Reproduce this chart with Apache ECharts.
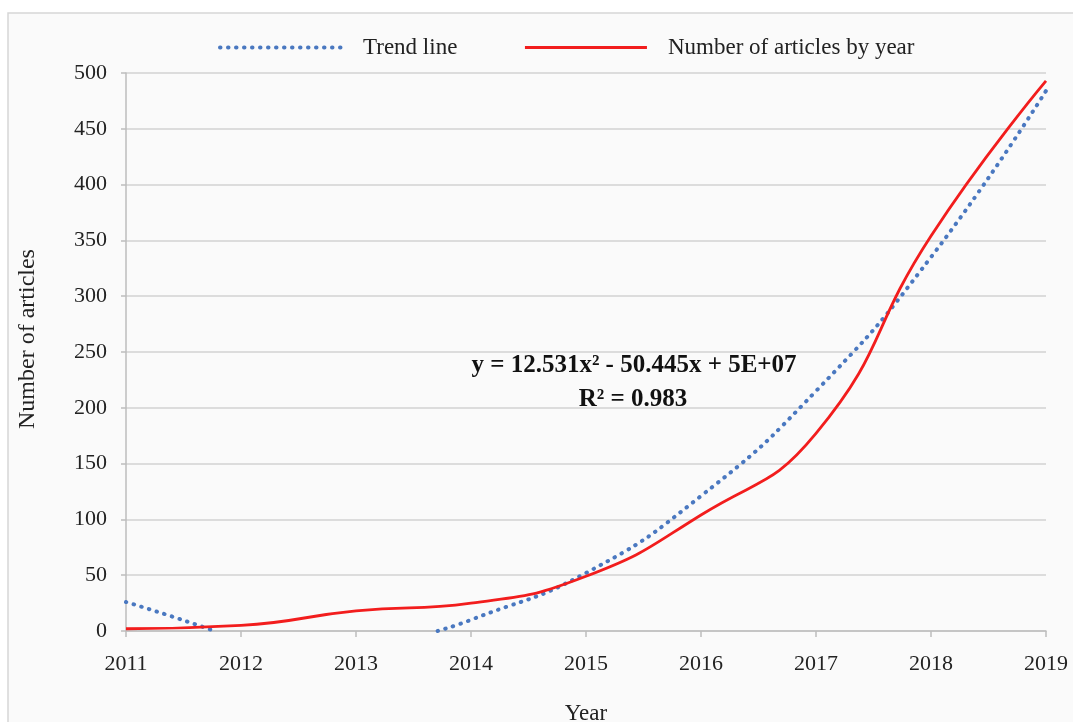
<!DOCTYPE html>
<html>
<head>
<meta charset="utf-8">
<script src="https://cdn.jsdelivr.net/npm/echarts@6/dist/echarts.min.js"></script>
<style>
html,body{margin:0;padding:0;background:#ffffff;}
#chart{width:1073px;height:722px;}
</style>
</head>
<body>
<div id="chart"></div>
<script>
// Data
const years = [2011, 2012, 2013, 2014, 2015, 2016, 2017, 2018, 2019];
const articles = [2, 5, 18, 25, 49, 104, 177, 354, 493];
const trendX = [2011, 2011.4, 2011.77, 2012.7, 2013.71, 2014, 2015, 2016, 2017, 2018, 2019];
const trendY = [26, 13, 0, null, 0, 10, 52, 121, 215, 335, 484];
const yTicks = [0, 50, 100, 150, 200, 250, 300, 350, 400, 450, 500];
const seriesNames = ['Trend line', 'Number of articles by year'];
const equationText = 'y = 12.531x\u00B2 - 50.445x + 5E+07';
const r2Text = 'R\u00B2 = 0.983';

const FONT = '"Liberation Serif", "Times New Roman", serif';
const BLUE = '#4a78c0';
const RED = '#f21d1d';
const trendLine = { color: BLUE, width: 4, type: [0.5, 7.5], cap: 'round' };

const chart = echarts.init(document.getElementById('chart'));
const option = {
  backgroundColor: '#ffffff',
  animation: false,
  graphic: [
    { type: 'rect', z: -10, silent: true,
      shape: { x: 8, y: 13, width: 1200, height: 800 },
      style: { fill: '#fafafa', stroke: '#d6d6d6', lineWidth: 1.5 } },
    { type: 'text', z: 10, x: 634, y: 366,
      style: { text: equationText, fill: '#111', font: 'bold 25px ' + FONT,
               textAlign: 'center', textVerticalAlign: 'middle' } },
    { type: 'text', z: 10, x: 633, y: 400,
      style: { text: r2Text, fill: '#111', font: 'bold 25px ' + FONT,
               textAlign: 'center', textVerticalAlign: 'middle' } },
    { type: 'text', z: 10, x: 28, y: 339, rotation: Math.PI / 2,
      style: { text: 'Number of articles', fill: '#222', font: '24px ' + FONT,
               textAlign: 'center', textVerticalAlign: 'middle' } },
    { type: 'text', z: 10, x: 586, y: 714,
      style: { text: 'Year', fill: '#222', font: '23px ' + FONT,
               textAlign: 'center', textVerticalAlign: 'middle' } }
  ],
  legend: {
    left: 213, top: 31,
    itemWidth: 122, itemHeight: 14, itemGap: 66,
    itemStyle: { opacity: 0 },
    data: [
      { name: seriesNames[0], lineStyle: trendLine },
      { name: seriesNames[1], lineStyle: { color: RED, width: 3.2 } }
    ],
    textStyle: { fontFamily: FONT, fontSize: 23, color: '#222', padding: [0, 0, 0, 16] }
  },
  grid: { left: 126, right: 27, top: 73, bottom: 91, containLabel: false },
  xAxis: {
    type: 'value', min: 2011, max: 2019, interval: 1,
    axisLine: { show: true, lineStyle: { color: '#bdbdbd', width: 1.5 } },
    axisTick: { show: true, length: 6, lineStyle: { color: '#bdbdbd', width: 1.5 } },
    axisLabel: { margin: 22, fontFamily: FONT, fontSize: 22, color: '#222',
                 formatter: v => String(v) },
    splitLine: { show: false }
  },
  yAxis: {
    type: 'value', min: 0, max: 500, interval: 50,
    axisLine: { show: true, lineStyle: { color: '#bdbdbd', width: 1.5 } },
    axisTick: { show: true, length: 5, lineStyle: { color: '#bdbdbd', width: 1.5 } },
    axisLabel: { margin: 19, fontFamily: FONT, fontSize: 22, color: '#222' },
    splitLine: { show: true, lineStyle: { color: '#d2d2d2', width: 1.5 } }
  },
  series: [
    {
      name: seriesNames[0], type: 'line', smooth: true, symbol: 'none',
      connectNulls: false, z: 3,
      lineStyle: trendLine,
      itemStyle: { color: BLUE },
      data: trendX.map((x, i) => [x, trendY[i] === null ? '-' : trendY[i]])
    },
    {
      name: seriesNames[1], type: 'line', smooth: true, symbol: 'none', z: 4,
      lineStyle: { color: RED, width: 2.8 },
      itemStyle: { color: RED },
      data: years.map((x, i) => [x, articles[i]])
    }
  ]
};
chart.setOption(option);
</script>
</body>
</html>
